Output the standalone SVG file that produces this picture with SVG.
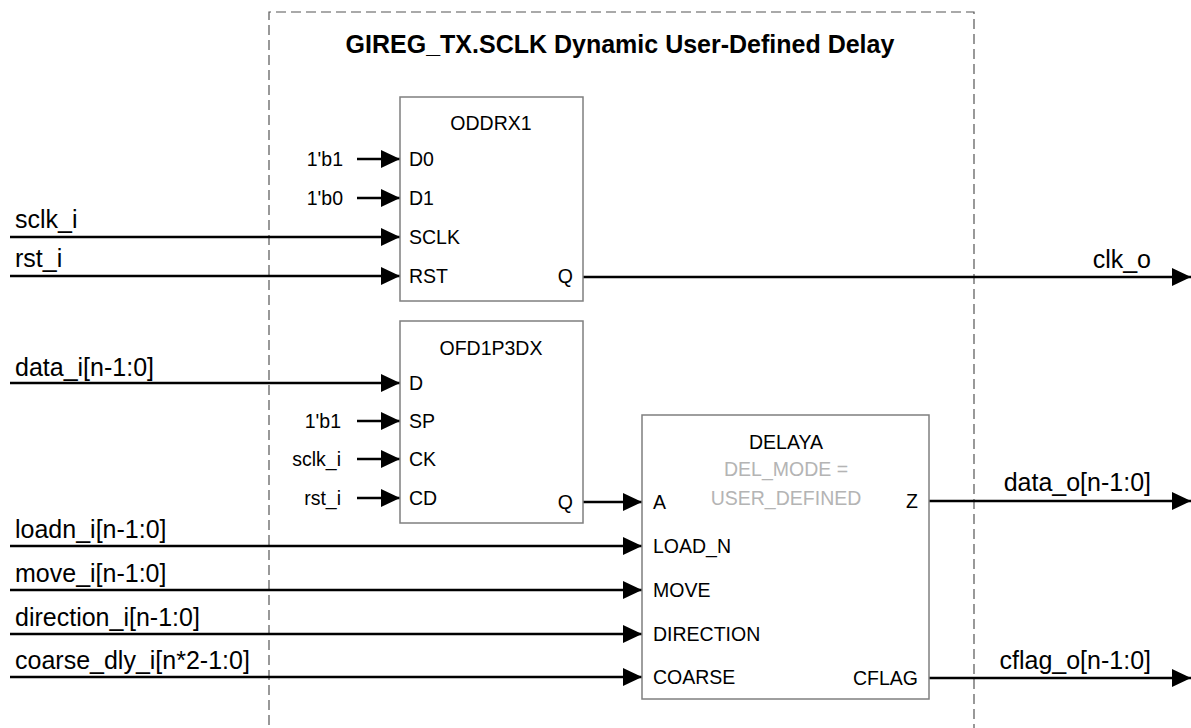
<svg xmlns="http://www.w3.org/2000/svg" width="1191" height="728" viewBox="0 0 1191 728">
<defs>
<marker id="ah" markerUnits="userSpaceOnUse" markerWidth="20" markerHeight="18" refX="19" refY="9" orient="auto">
<path d="M0,0 L19,9 L0,18 Z" fill="#000"/>
</marker>
<style>
text{font-family:"Liberation Sans",Arial,sans-serif;fill:#000}
.title{font-size:25px;font-weight:bold}
.ext{font-size:25px}
.pin{font-size:19.5px}
.gray{font-size:19.5px;fill:#b4b4b4}
.box{fill:#fff;stroke:#7f7f7f;stroke-width:1.5}
.w{stroke:#000;stroke-width:2.5;fill:none}
.wa{stroke:#000;stroke-width:2.5;fill:none;marker-end:url(#ah)}
.dash{fill:none;stroke:#555;stroke-width:1.2;stroke-dasharray:10 5}
</style>
</defs>
<rect width="1191" height="728" fill="#fff"/>
<g id="boundary">
<path class="dash" d="M269,740 L269,12 L974,12 L974,740"/>
<text class="title" x="620" y="53" text-anchor="middle">GIREG_TX.SCLK Dynamic User-Defined Delay</text>
</g>
<g id="connectors">
<line class="wa" x1="357" y1="159" x2="400" y2="159"/>
<line class="wa" x1="357" y1="198" x2="400" y2="198"/>
<line class="wa" x1="10" y1="237" x2="400" y2="237"/>
<line class="wa" x1="10" y1="276" x2="400" y2="276"/>
<line class="wa" x1="583" y1="277" x2="1191" y2="277"/>
<line class="wa" x1="10" y1="383" x2="400" y2="383"/>
<line class="wa" x1="357" y1="421" x2="400" y2="421"/>
<line class="wa" x1="357" y1="459" x2="400" y2="459"/>
<line class="wa" x1="357" y1="498" x2="400" y2="498"/>
<line class="wa" x1="583" y1="502" x2="642" y2="502"/>
<line class="wa" x1="10" y1="546" x2="642" y2="546"/>
<line class="wa" x1="10" y1="590" x2="642" y2="590"/>
<line class="wa" x1="10" y1="634" x2="642" y2="634"/>
<line class="wa" x1="10" y1="677" x2="642" y2="677"/>
<line class="wa" x1="929" y1="501" x2="1191" y2="501"/>
<line class="wa" x1="929" y1="678" x2="1191" y2="678"/>
</g>
<g id="labels">
<text class="pin" x="343" y="166" text-anchor="end">1'b1</text>
<text class="pin" x="343" y="205" text-anchor="end">1'b0</text>
<text class="ext" x="15" y="228">sclk_i</text>
<text class="ext" x="15" y="267">rst_i</text>
<text class="ext" x="1151" y="268" text-anchor="end">clk_o</text>
<text class="ext" x="15" y="376">data_i[n-1:0]</text>
<text class="pin" x="341" y="428" text-anchor="end">1'b1</text>
<text class="pin" x="341" y="466" text-anchor="end">sclk_i</text>
<text class="pin" x="341" y="505" text-anchor="end">rst_i</text>
<text class="ext" x="15" y="538">loadn_i[n-1:0]</text>
<text class="ext" x="15" y="582">move_i[n-1:0]</text>
<text class="ext" x="15" y="626">direction_i[n-1:0]</text>
<text class="ext" x="15" y="669">coarse_dly_i[n*2-1:0]</text>
<text class="ext" x="1151" y="491" text-anchor="end">data_o[n-1:0]</text>
<text class="ext" x="1151" y="669" text-anchor="end">cflag_o[n-1:0]</text>
</g>
<g id="ODDRX1">
<rect class="box" x="400" y="97" width="183" height="204"/>
<text class="pin" x="491" y="130" text-anchor="middle">ODDRX1</text>
<text class="pin" x="409" y="166">D0</text>
<text class="pin" x="409" y="205">D1</text>
<text class="pin" x="409" y="244">SCLK</text>
<text class="pin" x="409" y="283">RST</text>
<text class="pin" x="573" y="283" text-anchor="end">Q</text>
</g>
<g id="OFD1P3DX">
<rect class="box" x="400" y="321" width="183" height="202"/>
<text class="pin" x="491" y="355" text-anchor="middle">OFD1P3DX</text>
<text class="pin" x="409" y="390">D</text>
<text class="pin" x="409" y="428">SP</text>
<text class="pin" x="409" y="466">CK</text>
<text class="pin" x="409" y="505">CD</text>
<text class="pin" x="573" y="509" text-anchor="end">Q</text>
</g>
<g id="DELAYA">
<rect class="box" x="642" y="415" width="287" height="284"/>
<text class="pin" x="786" y="449" text-anchor="middle">DELAYA</text>
<text class="gray" x="786" y="476" text-anchor="middle">DEL_MODE =</text>
<text class="gray" x="786" y="505" text-anchor="middle">USER_DEFINED</text>
<text class="pin" x="653" y="509">A</text>
<text class="pin" x="653" y="553">LOAD_N</text>
<text class="pin" x="653" y="597">MOVE</text>
<text class="pin" x="653" y="641">DIRECTION</text>
<text class="pin" x="653" y="684">COARSE</text>
<text class="pin" x="918" y="508" text-anchor="end">Z</text>
<text class="pin" x="918" y="685" text-anchor="end">CFLAG</text>
</g>
</svg>
